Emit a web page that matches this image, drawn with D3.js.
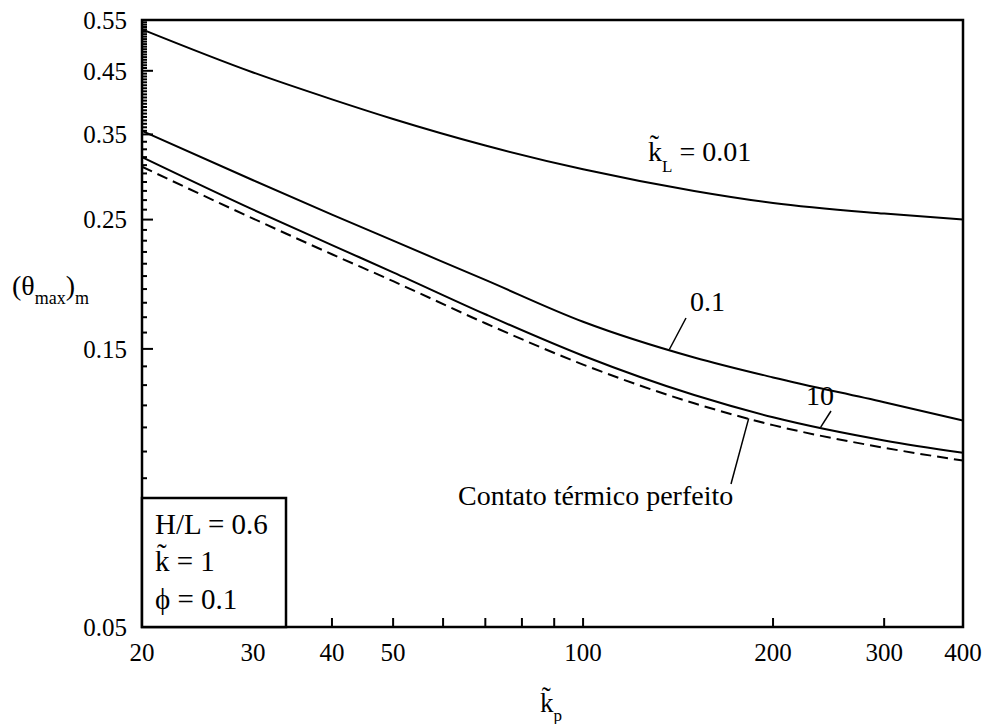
<!DOCTYPE html>
<html>
<head>
<meta charset="utf-8">
<script src="https://cdn.jsdelivr.net/npm/d3@7"></script>
<style>
  body { margin: 0; background: #fff; }
  svg text { font-family: 'Liberation Serif', 'Times New Roman', serif; }
</style>
</head>
<body>
<svg id="chart" width="985" height="724"></svg>
<script>
// Data (log-log plot)
const kp = [20, 30, 40, 50, 70, 100, 150, 200, 300, 400];
const kL001 = [0.53, 0.447, 0.402, 0.372, 0.335, 0.305, 0.28, 0.267, 0.256, 0.25];
const kL01 = [0.355, 0.292, 0.255, 0.23, 0.197, 0.167, 0.145, 0.134, 0.1215, 0.113];
const kL10 = [0.32, 0.26, 0.226, 0.203, 0.172, 0.146, 0.125, 0.1145, 0.1045, 0.0995];
const perfect = [0.308, 0.251, 0.218, 0.196, 0.166, 0.141, 0.121, 0.111, 0.1015, 0.0965];

const xTicks = [30, 40, 50, 60, 70, 80, 90, 100, 200, 300];
const xLabels = [20, 30, 40, 50, 100, 200, 300, 400];
const yLabels = [0.05, 0.15, 0.25, 0.35, 0.45, 0.55];

const margin = {left: 142, right: 963, top: 20, bottom: 627};
const svg = d3.select('#chart');

const x = d3.scaleLog().domain([20, 400]).range([margin.left, margin.right]);
const y = d3.scaleLog().domain([0.05, 0.55]).range([margin.bottom, margin.top]);

// minor y ticks: 0.01 steps up to 0.35, 0.005 steps above
const yMinor = [];
for (let i = 6; i < 35; i++) yMinor.push(i / 100);
for (let i = 71; i < 110; i++) yMinor.push(i / 200);
const yMajor = [0.15, 0.25, 0.35, 0.45];

const axisG = svg.append('g');

axisG.selectAll('.ymin')
    .data(yMinor.filter(v => !yMajor.some(m => Math.abs(m - v) < 1e-6)))
    .enter().append('line')
    .attr('x1', margin.left).attr('x2', margin.left + 5)
    .attr('y1', d => y(d)).attr('y2', d => y(d))
    .attr('stroke', '#000').attr('stroke-width', 2);

axisG.selectAll('.ymaj')
    .data(yMajor)
    .enter().append('line')
    .attr('x1', margin.left).attr('x2', margin.left + 11)
    .attr('y1', d => y(d)).attr('y2', d => y(d))
    .attr('stroke', '#000').attr('stroke-width', 2);

axisG.selectAll('.xt')
    .data(xTicks)
    .enter().append('line')
    .attr('x1', d => x(d)).attr('x2', d => x(d))
    .attr('y1', margin.bottom).attr('y2', margin.bottom - 9)
    .attr('stroke', '#000').attr('stroke-width', 2);

// tick labels
axisG.selectAll('.yl')
    .data(yLabels)
    .enter().append('text')
    .attr('x', 127)
    .attr('y', d => y(d))
    .attr('dy', '0.35em')
    .attr('text-anchor', 'end')
    .style('font-size', '25px')
    .text(d => d.toFixed(2));

axisG.selectAll('.xl')
    .data(xLabels)
    .enter().append('text')
    .attr('x', d => x(d))
    .attr('y', 661)
    .attr('text-anchor', 'middle')
    .style('font-size', '25px')
    .text(d => d);

// curves
const line = d3.line()
    .x(d => x(d[0]))
    .y(d => y(d[1]))
    .curve(d3.curveMonotoneX);

const series = [
    {values: kL001, dash: null},
    {values: kL01, dash: null},
    {values: kL10, dash: null},
    {values: perfect, dash: '11,6'}
];

const curveG = svg.append('g');
series.forEach(s => {
    curveG.append('path')
        .attr('d', line(kp.map((k, i) => [k, s.values[i]])))
        .attr('fill', 'none')
        .attr('stroke', '#000')
        .attr('stroke-width', 2)
        .attr('stroke-dasharray', s.dash);
});

// value of a series at a given kp (log-log interpolation)
function valueAt(values, k) {
    const i = Math.min(d3.bisectRight(kp, k) - 1, kp.length - 2);
    const t = (Math.log(k) - Math.log(kp[i])) / (Math.log(kp[i + 1]) - Math.log(kp[i]));
    return Math.exp(Math.log(values[i]) + t * (Math.log(values[i + 1]) - Math.log(values[i])));
}

// frame
svg.append('rect')
    .attr('x', margin.left).attr('y', margin.top)
    .attr('width', margin.right - margin.left)
    .attr('height', margin.bottom - margin.top)
    .attr('fill', 'none')
    .attr('stroke', '#000')
    .attr('stroke-width', 2.5);

// curve labels
const lab = svg.append('g').style('font-size', '28px');

const kLabel = lab.append('text').attr('x', 648).attr('y', 161);
kLabel.append('tspan').text('k\u0303');
kLabel.append('tspan').attr('dy', 11).style('font-size', '17px').text('L');
kLabel.append('tspan').attr('dy', -11).text(' = 0.01');

lab.append('text').attr('x', 690).attr('y', 311).text('0.1');
lab.append('text').attr('x', 806).attr('y', 405).text('10');
lab.append('text').attr('x', 458).attr('y', 505).text('Contato térmico perfeito');

// leader lines: start near label, end on the curve
const leaders = [
    {from: [686, 318], k: 137, values: kL01},
    {from: [831, 411], k: 238, values: kL10},
    {from: [731, 484], k: 183, values: perfect}
];
leaders.forEach(l => {
    lab.append('line')
        .attr('x1', l.from[0]).attr('y1', l.from[1])
        .attr('x2', x(l.k)).attr('y2', y(valueAt(l.values, l.k)))
        .attr('stroke', '#000').attr('stroke-width', 1.5);
});

// inset box with parameters
const box = svg.append('g').style('font-size', '29px');
box.append('rect')
    .attr('x', margin.left).attr('y', 498)
    .attr('width', 144).attr('height', margin.bottom - 498)
    .attr('fill', '#fff')
    .attr('stroke', '#000')
    .attr('stroke-width', 2.5);
box.append('text').attr('x', 155).attr('y', 534).text('H/L = 0.6');
box.append('text').attr('x', 155).attr('y', 571).text('k\u0303 = 1');
box.append('text').attr('x', 155).attr('y', 609).text('\u03d5 = 0.1');

// axis titles
const yt = svg.append('text').attr('x', 12).attr('y', 295).style('font-size', '28px');
yt.append('tspan').text('(\u03b8');
yt.append('tspan').attr('dy', 9).style('font-size', '18px').text('max');
yt.append('tspan').attr('dy', -9).text(')');
yt.append('tspan').attr('dy', 9).style('font-size', '18px').text('m');

const xt = svg.append('text').attr('x', 540).attr('y', 712).style('font-size', '27px');
xt.append('tspan').text('k\u0303');
xt.append('tspan').attr('dy', 9).style('font-size', '17px').text('p');
</script>
</body>
</html>
